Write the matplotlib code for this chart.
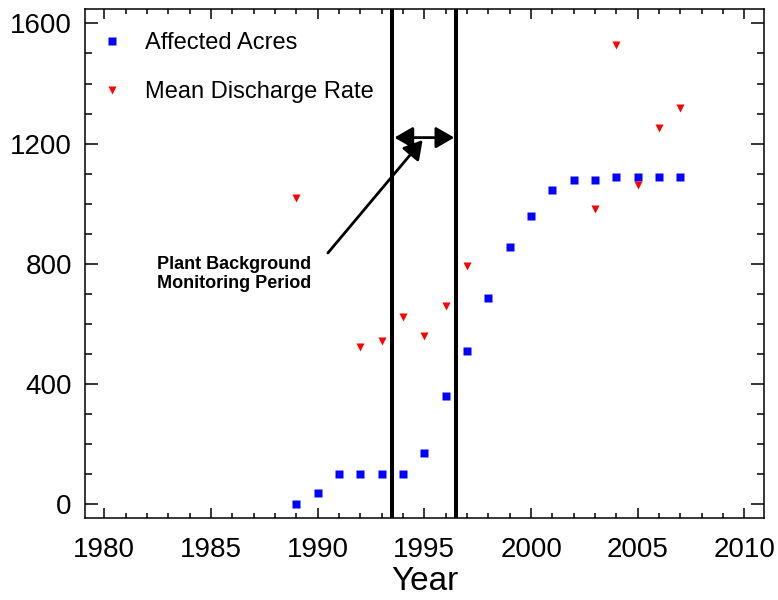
# recreating the affected acres / discharge rate chart
import numpy as np
import matplotlib
matplotlib.use('Agg')
import matplotlib.pyplot as plt
from matplotlib.ticker import MultipleLocator

# data
acres_years = [1989, 1990, 1991, 1992, 1993, 1994, 1995, 1996, 1997, 1998,
               1999, 2000, 2001, 2002, 2003, 2004, 2005, 2006, 2007]
acres = [0, 37, 102, 102, 102, 102, 170, 360, 510, 686,
         855, 960, 1045, 1080, 1080, 1090, 1090, 1090, 1090]

discharge_years = [1989, 1992, 1993, 1994, 1995, 1996, 1997, 2003, 2004, 2005, 2006, 2007]
discharge = [1018, 524, 544, 622, 561, 660, 794, 981, 1528, 1062, 1251, 1317]

period_start = 1993.5
period_end = 1996.5
annot_text = 'Plant Background\nMonitoring Period'

plt.rcParams.update({
    "font.family": ["Liberation Sans", "DejaVu Sans"],
    "axes.linewidth": 1.1,
})

fig = plt.figure(figsize=(7.78, 6), dpi=100)
ax = fig.add_axes([85/778, 82/600, (763.7-85)/778, (518-9)/600])

ax.plot(acres_years, acres, 's', color='#0000ff', markersize=5.3, mec='none',
        label='Affected Acres')
ax.plot(discharge_years, discharge, 'v', color='#ff0000', markersize=6, mec='none',
        label='Mean Discharge Rate')

# monitoring period
ax.axvline(period_start, color='black', lw=2.9)
ax.axvline(period_end, color='black', lw=2.9)
ax.annotate('', xy=(period_start, 1220), xytext=(period_end, 1220),
            arrowprops=dict(arrowstyle='<|-|>,head_length=0.45,head_width=0.26',
                            mutation_scale=25, lw=2, color='black',
                            shrinkA=1.5, shrinkB=1.5))
ax.annotate('', xy=(1994.92, 1212), xytext=(1990.48, 836),
            arrowprops=dict(arrowstyle='-|>,head_length=0.45,head_width=0.26',
                            mutation_scale=25, lw=2, color='black',
                            shrinkA=0, shrinkB=0))
ax.text(1982.48, 826, annot_text, fontsize=13, fontweight='bold',
        ha='left', va='top', linespacing=1.15)

ax.set_xlim(1979.1, 2010.9)
ax.set_ylim(-46, 1648)
ax.xaxis.set_major_locator(MultipleLocator(5))
ax.xaxis.set_minor_locator(MultipleLocator(1))
ax.yaxis.set_major_locator(MultipleLocator(400))
ax.yaxis.set_minor_locator(MultipleLocator(100))
ax.tick_params(which='both', direction='in', top=True, right=True, width=1.1)
ax.tick_params(axis='x', which='major', length=7.5, labelsize=20, pad=13.5)
ax.tick_params(axis='x', which='minor', length=3.8)
ax.tick_params(axis='y', which='major', length=9.5, labelsize=20, pad=9.5)
ax.tick_params(axis='y', which='minor', length=5)

ax.set_xlabel('Year', fontsize=24, labelpad=2)

ax.legend(loc='upper left', bbox_to_anchor=(0.022, 0.955), frameon=False,
          fontsize=17, numpoints=1, handlelength=1.0, handletextpad=0.9,
          labelspacing=1.15, borderpad=0, borderaxespad=0, markerscale=1.0)

fig.savefig('out.png', dpi=100)
